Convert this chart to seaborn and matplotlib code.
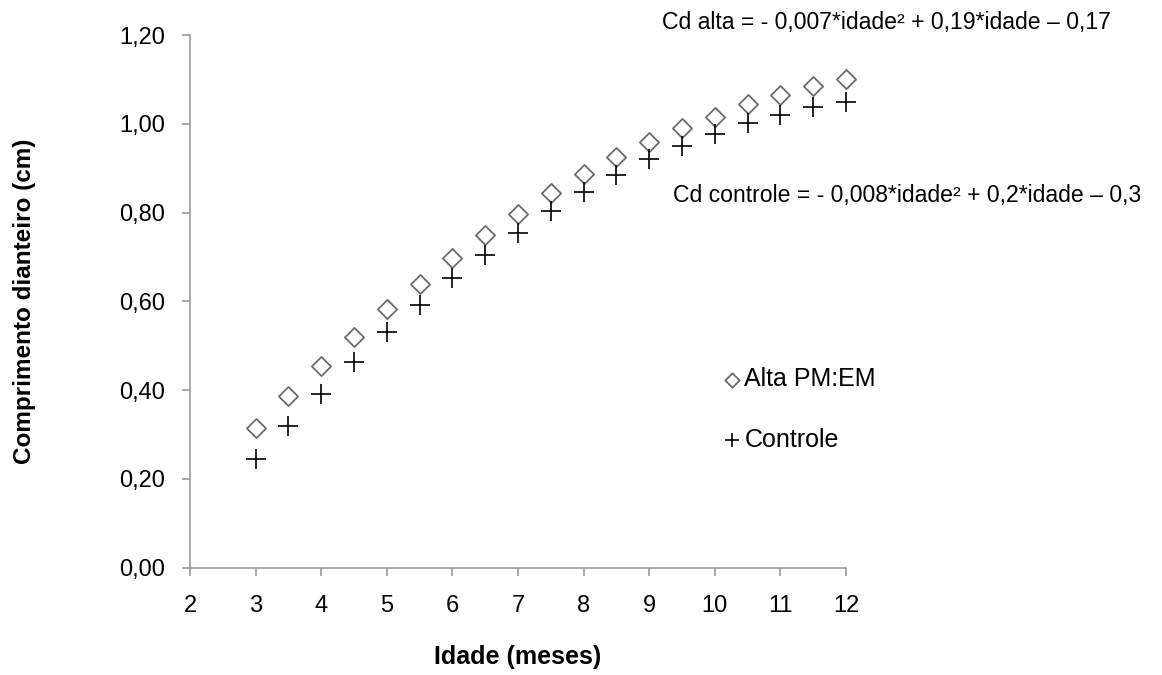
import matplotlib
matplotlib.use("Agg")
import matplotlib.pyplot as plt
import seaborn as sns
import pandas as pd

# Age in months and mean fore length (cm) for each group
idade = [3, 3.5, 4, 4.5, 5, 5.5, 6, 6.5, 7, 7.5, 8, 8.5, 9, 9.5, 10, 10.5, 11, 11.5, 12]
alta = [0.314, 0.386, 0.455, 0.520, 0.583, 0.640, 0.697, 0.749, 0.798, 0.845, 0.887,
        0.926, 0.959, 0.990, 1.016, 1.044, 1.066, 1.085, 1.100]
controle = [0.244, 0.319, 0.391, 0.463, 0.530, 0.592, 0.652, 0.704, 0.753, 0.804, 0.847,
            0.884, 0.920, 0.950, 0.978, 1.001, 1.020, 1.037, 1.050]
grupos = ["Alta PM:EM", "Controle"]
yticks = [0.0, 0.2, 0.4, 0.6, 0.8, 1.0, 1.2]
xticks = list(range(2, 13))

df = pd.DataFrame({
    "idade": idade * 2,
    "cd": alta + controle,
    "grupo": [grupos[0]] * len(idade) + [grupos[1]] * len(idade),
})

sns.set_theme(style="white")
plt.rcParams["font.family"] = ["Liberation Sans", "DejaVu Sans"]
plt.rcParams["text.color"] = "black"
plt.rcParams["axes.labelcolor"] = "black"

W, H = 1162, 675
fig = plt.figure(figsize=(W / 100, H / 100), dpi=100)
ax = fig.add_axes([190 / W, 1 - 567.7 / H, 656 / W, 532.6 / H])

axis_gray = "#9a9a9a"

alta_df = df[df["grupo"] == grupos[0]]
ctrl_df = df[df["grupo"] == grupos[1]]
sns.scatterplot(data=alta_df, x="idade", y="cd", marker="D", s=95,
                facecolor="white", edgecolor="#6b6b6b", linewidth=1.3,
                ax=ax, label=grupos[0], zorder=3, clip_on=False)
sns.scatterplot(data=ctrl_df, x="idade", y="cd", marker="+", s=190,
                color="black", linewidth=1.2, ax=ax, label=grupos[1], zorder=3,
                clip_on=False)

ax.set_xlim(2, 12)
ax.set_ylim(0, 1.2)
ax.set_xticks(xticks)
ax.set_yticks(yticks)
ax.set_xticklabels([str(v) for v in xticks], fontsize=17)
ax.set_yticklabels([f"{v:.2f}".replace(".", ",") for v in yticks], fontsize=17)

for side in ("top", "right"):
    ax.spines[side].set_visible(False)
for side in ("left", "bottom"):
    ax.spines[side].set_color(axis_gray)
    ax.spines[side].set_linewidth(1.2)
ax.tick_params(axis="both", direction="out", length=6, width=1.2,
               color=axis_gray, labelcolor="black", pad=12)
ax.tick_params(axis="x", bottom=True, pad=14)
ax.tick_params(axis="y", left=True)

ax.set_xlabel("Idade (meses)", fontsize=18, fontweight="bold", color="black")
ax.set_ylabel("Comprimento dianteiro (cm)", fontsize=17.5, fontweight="bold", color="black")
ax.xaxis.set_label_coords(0.5, -0.145)
ax.yaxis.set_label_coords(-0.234, 0.5)

leg = ax.legend(loc="upper left", bbox_to_anchor=(0.807, 0.376), frameon=False,
                fontsize=18, handlelength=1.0, handletextpad=0.0, labelspacing=1.45,
                markerscale=0.75, borderaxespad=0, borderpad=0)
for t in leg.get_texts():
    t.set_color("black")

fig.text(662 / W, 1 - 29 / H, "Cd alta = - 0,007*idade² + 0,19*idade – 0,17",
         fontsize=16.6, ha="left", va="baseline", color="black")
fig.text(673 / W, 1 - 202 / H, "Cd controle = - 0,008*idade² + 0,2*idade – 0,3",
         fontsize=16.6, ha="left", va="baseline", color="black")

fig.savefig("out.png", dpi=100)
